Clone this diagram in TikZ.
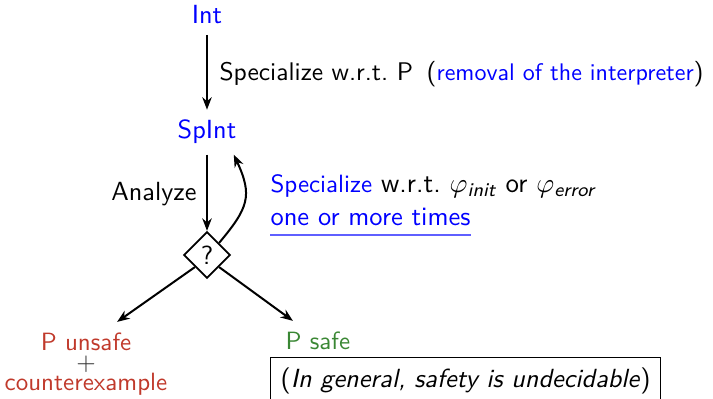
\documentclass[tikz,border=0pt]{standalone}
\usepackage{amsmath}
\usetikzlibrary{shapes.geometric,arrows.meta}
\renewcommand{\familydefault}{\sfdefault}

\definecolor{linkblue}{RGB}{0,0,255}
\definecolor{ulblue}{RGB}{95,95,255}
\definecolor{unsafered}{RGB}{192,57,43}
\definecolor{safegreen}{RGB}{58,135,52}

\newcommand{\fs}[1]{\fontsize{#1}{1.2\dimexpr #1pt\relax}\selectfont}
\newcommand{\subtxt}[1]{\text{\itshape #1}}

\tikzset{
  flow/.style={-{Stealth[length=5pt,width=3.8pt]}, line width=0.8pt},
  prog/.style={text=linkblue, inner sep=4pt, font=\fs{10.5}},
  plain/.style={inner sep=0pt},
  test/.style={diamond, draw, aspect=1, line width=0.7pt, minimum size=18.6pt, inner sep=0pt, font=\fs{10.5}},
  verdict/.style={inner sep=4pt, font=\fs{10}},
  remark/.style={draw, line width=0.5pt, inner xsep=4pt, inner ysep=4pt, font=\fs{10.5}}
}

\begin{document}
\begin{tikzpicture}[x=0.4pt, y={(0pt,-0.4pt)}]
  \useasboundingbox (0,0) rectangle (713,399);
  \clip (0,0) rectangle (713,399);

  % programs
  \node[prog, anchor=base] (int) at (207,24) {Int};
  \node[prog, anchor=base] (spint) at (207,139) {SpInt};
  \node[test] (q) at (207,255) {?};

  % labels of the steps
  \node[plain, anchor=base west, font=\fs{10.2}] (spec) at (219,81)
    {Specialize w.r.t.\ P\hspace{0.2em} (\textcolor{linkblue}{\fs{9.6}removal of the interpreter})};
  \node[plain, anchor=base east, font=\fs{10.5}] (analyze) at (197,200) {Analyze};
  \node[plain, anchor=base west, font=\fs{11}] (again) at (270,192)
    {\textcolor{linkblue}{\fs{10}Specialize} w.r.t.\ $\varphi_{\subtxt{init}}$ or $\varphi_{\subtxt{error}}$};
  \node[plain, anchor=base west, text=linkblue, font=\fs{10.6}] (more) at (270,225) {one or more times};
  \draw[ulblue, line width=0.6pt] ([yshift=-3.6pt]more.south west) -- ([yshift=-3.6pt]more.south east);

  % outcomes
  \node[verdict, anchor=base, text=unsafered] (unsafe) at (86,350) {P unsafe};
  \node[plain, anchor=center, text=black!80, font=\fs{10}] (plus) at (86,364) {+};
  \node[plain, anchor=base, text=unsafered, font=\fs{10}] (cex) at (86,390) {counterexample};
  \node[verdict, anchor=base west, text=safegreen] (safe) at (275,349) {P safe};
  \node[remark, anchor=north west] (undec) at (270,357)
    {(\textit{In general, safety is undecidable})};

  % connectors
  \draw[flow] (int.south) -- (spint.north);
  \draw[flow] (spint.south) -- (q.north);
  \draw[flow] (q.north east) to[out=50, in=-65, looseness=1.3] (spint.-40);
  \draw[flow] (q.south west) -- (unsafe.32);
  \draw[flow] (q.south east) -- (safe.142);
\end{tikzpicture}
\end{document}
